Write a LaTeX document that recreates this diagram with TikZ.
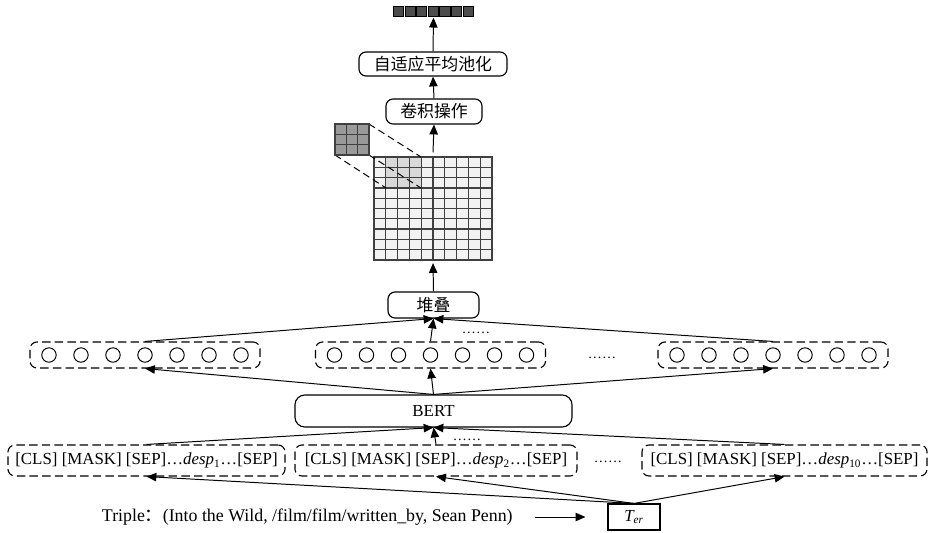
\documentclass[tikz,border=0pt]{standalone}
\usepackage{fontspec}
\setmainfont{Liberation Serif}
\newfontfamily\cjk{Noto Sans CJK SC}
\usetikzlibrary{arrows.meta}

\begin{document}
\begin{tikzpicture}[x=0.025cm, y=-0.025cm, every node/.style={font=\fontsize{12}{14}\selectfont}, >={Triangle[length=7pt,width=6pt]},
	box/.style={draw, rounded corners=5pt, line width=0.8pt, inner sep=0pt},
	dbox/.style={box, dash pattern=on 6pt off 3pt},
	seqbox/.style={dbox, minimum height=0.775cm},
	vecbox/.style={dbox, minimum width=5.75cm, minimum height=0.65cm},
	cell/.style={draw=black!75, line width=0.9pt},
	link/.style={->, line width=0.7pt}]
	\useasboundingbox (0,0) rectangle (932,532);

	\node[seqbox, minimum width=6.925cm] (in1) at (146.5,460.5) {[CLS] [MASK] [SEP]…\textit{desp}\textsubscript{1}…[SEP]};
	\node[seqbox, minimum width=7.05cm] (in2) at (436,460.5) {[CLS] [MASK] [SEP]…\textit{desp}\textsubscript{2}…[SEP]};
	\node[seqbox, minimum width=7.125cm] (in3) at (784.5,460.5) {[CLS] [MASK] [SEP]…\textit{desp}\textsubscript{10}…[SEP]};
	\node[font=\fontsize{10}{12}\selectfont] (dots1) at (608,462) {……};
	\node[font=\fontsize{10}{12}\selectfont] (dots2) at (467,440) {……};

	\node[draw, line width=0.8pt, minimum width=1.3cm, minimum height=0.65cm, inner sep=0pt] (ter) at (634,517) {\textit{T\textsubscript{er}}};
	\node[anchor=west, font=\fontsize{12.7}{14}\selectfont] (triple) at (97,517) {Triple{\cjk ：}(Into the Wild, /film/film/written\_by, Sean Penn)};
	\draw[link] ([xshift=0.425cm]triple.east) -- ([xshift=-0.55cm]ter.west);

	\node[box, rounded corners=7pt, minimum width=6.925cm, minimum height=0.8cm] (bert) at (433.5,411) {BERT};

	\node[vecbox] (g1) at (145,355) {};
	\node[vecbox] (g2) at (430.5,355) {};
	\node[vecbox] (g3) at (773,355) {};
	\foreach \g in {g1,g2,g3}
		\foreach \k in {-3,...,3}
			\draw[line width=0.7pt] ([xshift=\k*0.8cm]\g.center) circle[radius=0.18cm];
	\node[font=\fontsize{10}{12}\selectfont] (dots3) at (602,358) {……};
	\node[font=\fontsize{10}{12}\selectfont] (dots4) at (476,333) {……};

	\node[box, minimum width=2.275cm, minimum height=0.65cm] (stack) at (433.5,305) {\cjk 堆叠};

	\node[minimum width=2.95cm, minimum height=2.575cm, inner sep=0pt] (grid) at (433,208.5) {};
	\foreach \i in {0,...,9}
		\foreach \j in {0,...,9}
			\draw[cell, fill=black!5] (374+\i*11.8,157+\j*10.3) rectangle ++(11.8,10.3);
	\foreach \i in {1,2,3}
		\foreach \j in {0,1,2}
			\draw[cell, fill=black!15] (374+\i*11.8,157+\j*10.3) rectangle ++(11.8,10.3);
	\draw[dash pattern=on 5pt off 3pt, line width=0.7pt] (369,124) -- (421,157) (369,155) -- (421,188) (335,155) -- (386,188);
	\foreach \i in {0,1,2}
		\foreach \j in {0,1,2}
			\draw[cell, fill=black!40] (335+\i*11.3,124+\j*10.3) rectangle ++(11.3,10.3);

	\node[box, minimum width=2.4cm, minimum height=0.625cm] (conv) at (434,111.5) {\cjk 卷积操作};
	\node[box, minimum width=3.7cm, minimum height=0.6cm] (pool) at (433,64) {\cjk 自适应平均池化};

	\node[minimum width=2.025cm, minimum height=0.25cm, inner sep=0pt] (vec) at (433.5,11) {};
	\foreach \k in {0,...,6}
		\draw[fill=black!70, line width=0.6pt] (393.5+\k*11.6,6) rectangle ++(10.2,10);

	\foreach \n in {in1,in2,in3}
		\draw[link] (ter.north) -- (\n.south);
	\foreach \n in {in1,in2,in3}
		\draw[link] (\n.north) -- (bert.south);
	\foreach \g in {g1,g2,g3}
		\draw[link] (bert.north) -- (\g.south);
	\foreach \g in {g1,g2,g3}
		\draw[link] (\g.north) -- (stack.south);
	\draw[link] (stack.north) -- ([yshift=-2pt]grid.south);
	\draw[link] ([yshift=3pt]grid.north) -- (conv.south);
	\draw[link] (conv.north) -- (pool.south);
	\draw[link] (pool.north) -- ([yshift=-1pt]vec.south);
\end{tikzpicture}
\end{document}
